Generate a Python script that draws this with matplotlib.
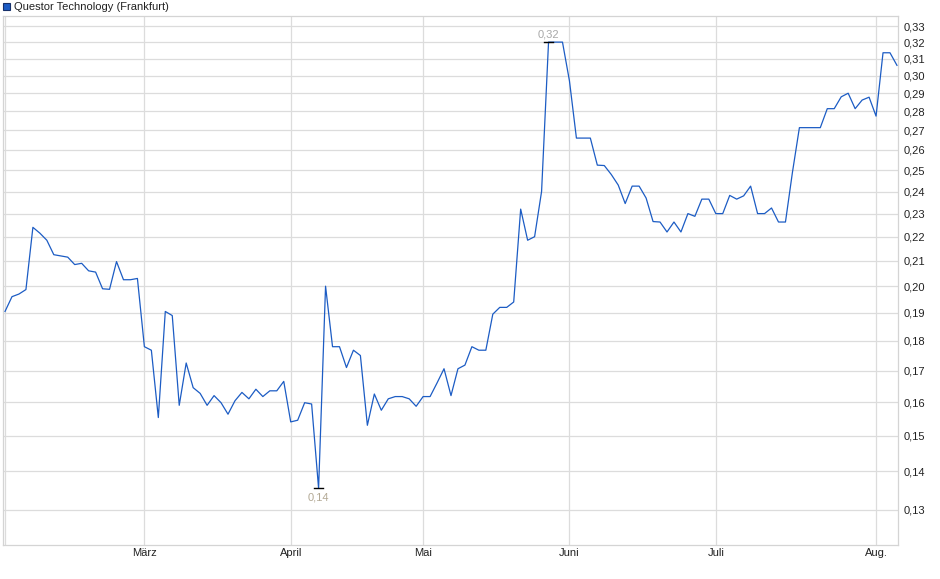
import numpy as np
import matplotlib
matplotlib.use("Agg")
from matplotlib import pyplot as plt
from matplotlib.ticker import FixedLocator, NullLocator, NullFormatter

# closing prices, one per trading session
prices = [0.1905, 0.196, 0.197, 0.1987, 0.224, 0.2215, 0.2185, 0.2125, 0.212, 0.2115,
          0.2085, 0.209, 0.206, 0.2055, 0.199, 0.1988, 0.2097, 0.2025, 0.2025, 0.203,
          0.178, 0.1768, 0.1553, 0.1905, 0.189, 0.159, 0.1725, 0.1645, 0.1627, 0.159,
          0.162, 0.1598, 0.1563, 0.1604, 0.163, 0.161, 0.164, 0.1617, 0.1635, 0.1635,
          0.1665, 0.154, 0.1545, 0.1598, 0.1594, 0.1355, 0.200, 0.178, 0.178, 0.171,
          0.1768, 0.175, 0.153, 0.1625, 0.1575, 0.161, 0.1617, 0.1617, 0.161, 0.1587,
          0.1617, 0.1617, 0.166, 0.1706, 0.162, 0.1706, 0.1718, 0.178, 0.1768, 0.1768,
          0.1895, 0.192, 0.192, 0.194, 0.232, 0.2185, 0.220, 0.240, 0.320, 0.320,
          0.320, 0.297, 0.266, 0.266, 0.266, 0.2525, 0.2523, 0.248, 0.243, 0.2345,
          0.2425, 0.2425, 0.237, 0.2265, 0.2263, 0.222, 0.2263, 0.222, 0.230, 0.2288,
          0.2365, 0.2365, 0.230, 0.230, 0.2382, 0.2365, 0.238, 0.2425, 0.230, 0.230,
          0.2325, 0.2263, 0.2263, 0.249, 0.2714, 0.2714, 0.2714, 0.2714, 0.2815, 0.2815,
          0.288, 0.290, 0.2815, 0.2862, 0.2878, 0.2775, 0.3135, 0.3135, 0.306]

months = ["", "März", "April", "Mai", "Juni", "Juli", "Aug."]
month_pos = [0, 20, 41, 60, 81, 102, 125]

y_ticks = [0.13, 0.14, 0.15, 0.16, 0.17, 0.18, 0.19, 0.20, 0.21, 0.22, 0.23,
           0.24, 0.25, 0.26, 0.27, 0.28, 0.29, 0.30, 0.31, 0.32, 0.33]

plt.rcParams['font.family'] = ['Liberation Sans', 'DejaVu Sans']

W, H = 940, 579
fig = plt.figure(figsize=(W / 100, H / 100), dpi=100)
ax = fig.add_axes([3 / W, 1 - 545 / H, 895 / W, 529 / H])

x = np.arange(len(prices))
ax.plot(x, prices, color='#1c5cc4', lw=0.9, zorder=3)

ax.set_yscale('log')
ax.set_ylim(0.1215, 0.3365)
ax.set_xlim(-0.29, 128.15)

ax.yaxis.set_major_locator(FixedLocator(y_ticks))
ax.yaxis.set_minor_locator(NullLocator())
ax.yaxis.set_minor_formatter(NullFormatter())
ax.set_yticklabels([("%.2f" % v).replace(".", ",") for v in y_ticks])
ax.yaxis.tick_right()

ax.set_xticks(month_pos)
ax.set_xticklabels(months)

ax.grid(True, color='#dcdcdc', lw=0.9, zorder=0)
ax.tick_params(axis='both', length=0, labelsize=8, colors='#222222')
ax.tick_params(axis='y', pad=4)
ax.tick_params(axis='x', pad=2.5)
for s in ax.spines.values():
    s.set_color('#d4d4d4')
    s.set_linewidth(0.9)

# min / max markers
imin = int(np.argmin(prices))
imax = int(np.argmax(prices))
ax.plot([imin - 0.65, imin + 0.65], [prices[imin]] * 2, color='black', lw=1.0, zorder=4)
ax.plot([imax - 0.65, imax + 0.65], [prices[imax]] * 2, color='black', lw=1.0, zorder=4)
ax.annotate(("%.2f" % prices[imin]).replace(".", ","), (imin, prices[imin]),
            xytext=(0, -3), textcoords='offset points', ha='center', va='top',
            fontsize=8, color='#b3a995')
ax.annotate(("%.2f" % prices[imax]).replace(".", ","), (imax, prices[imax]),
            xytext=(0, 2), textcoords='offset points', ha='center', va='bottom',
            fontsize=8, color='#a8a8a8')

# legend-like title
fig.patches.append(plt.Rectangle((3 / W, 1 - 10 / H), 7 / W, 7 / H, transform=fig.transFigure,
                                 facecolor='#1c5cc4', edgecolor='#16306a', lw=0.8))
fig.text(14 / W, 1 - 6.5 / H, "Questor Technology (Frankfurt)", fontsize=8,
         va='center', ha='left', color='#222222')

fig.savefig("out.png", dpi=100)
